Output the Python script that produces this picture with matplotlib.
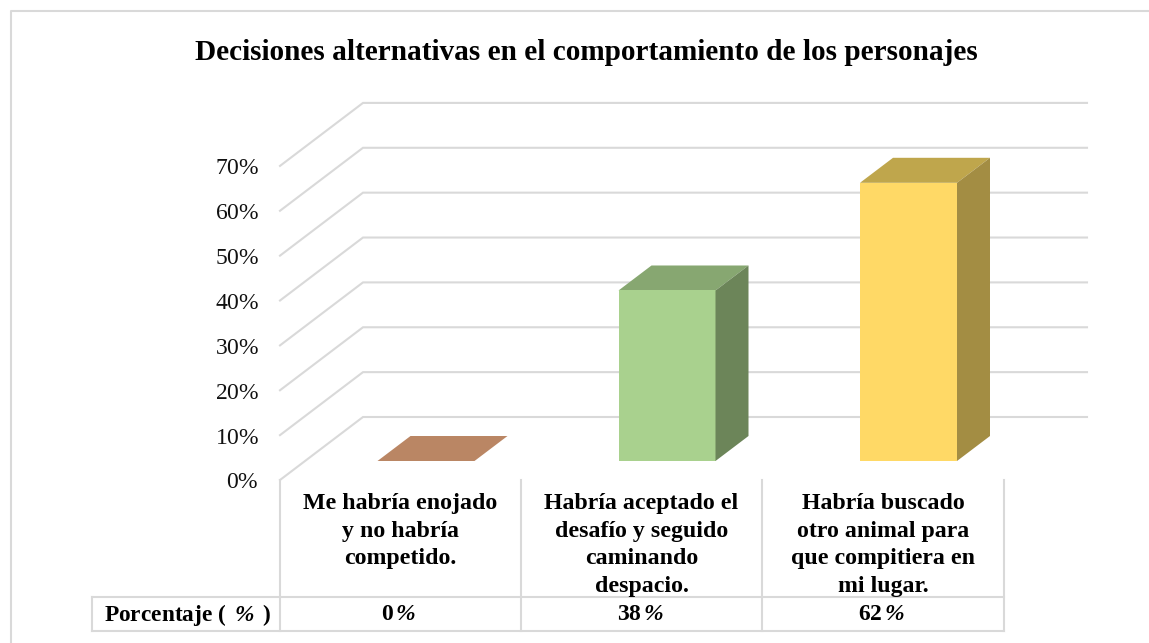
import matplotlib
matplotlib.use('Agg')
import matplotlib.pyplot as plt
from matplotlib.patches import Polygon

plt.rcParams['font.family'] = ['Liberation Serif', 'DejaVu Serif']
plt.rcParams['mathtext.fontset'] = 'custom'
plt.rcParams['mathtext.rm'] = 'Liberation Serif'
plt.rcParams['mathtext.it'] = 'Liberation Serif:italic'
plt.rcParams['mathtext.bf'] = 'Liberation Serif:bold'
plt.rcParams['mathtext.bfit'] = 'Liberation Serif:italic:bold'

# datos
categorias = ['Me habría enojado\ny no habría\ncompetido.',
              'Habría aceptado el\ndesafío y seguido\ncaminando\ndespacio.',
              'Habría buscado\notro animal para\nque compitiera en\nmi lugar.']
porcentajes = [0, 38, 62]
ticks = [0, 10, 20, 30, 40, 50, 60, 70]
frente = [None, '#A9D18E', '#FFD966']
arriba = ['#BA8664', '#87A771', '#BFA64C']
lado = [None, '#6C8559', '#A38D43']

# geometria en pixeles de la imagen
PX = 4.487
X0, X1 = 280, 1004
Y0 = 480
DX, DY = 83, -63
GRIS = '#d9d9d9'
col_x = [280, 521, 762, 1004]


def val_y(v):
    return Y0 - v * PX


fig = plt.figure(figsize=(11.49, 6.43), dpi=100)
ax = fig.add_axes([0, 0, 1, 1])
ax.set_xlim(0, 1149)
ax.set_ylim(643, 0)
ax.axis('off')

# marco exterior (sin borde derecho visible)
ax.plot([10.5, 10.5, 1149], [643, 10.5, 10.5], color=GRIS, lw=1.5)

ax.text(586.5, 53, 'Decisiones alternativas en el comportamiento de los personajes',
        ha='center', va='center', fontsize=21.1, fontweight='bold', color='black')

# rejilla
for t in ticks:
    y = val_y(t)
    ax.plot([X0, X0 + DX, X1 + DX], [y, y + DY, y + DY], color=GRIS, lw=1.5,
            solid_joinstyle='miter', zorder=1)
    ax.text(259, y + 3, f'{t}$\\mathit{{\\%}}$', ha='right', va='center',
            fontsize=17, color='#111111')

# barras
for i, v in enumerate(porcentajes):
    ancho = 97
    centro = (col_x[i] + col_x[i + 1]) / 2 + 25.5
    izq, der = centro - ancho / 2, centro + ancho / 2
    base = 461
    tope = base - v * PX
    ddx, ddy = 33, -25
    ax.add_patch(Polygon([(izq, tope), (der, tope), (der + ddx, tope + ddy), (izq + ddx, tope + ddy)],
                         facecolor=arriba[i], edgecolor='none', zorder=3))
    if v > 0:
        ax.add_patch(Polygon([(izq, base), (der, base), (der, tope), (izq, tope)],
                             facecolor=frente[i], edgecolor='none', zorder=3))
        ax.add_patch(Polygon([(der, base), (der + ddx, base + ddy), (der + ddx, tope + ddy), (der, tope)],
                             facecolor=lado[i], edgecolor='none', zorder=3))

# tabla de datos
for x in col_x:
    ax.plot([x, x], [Y0, 631], color=GRIS, lw=1.5, zorder=2)
ax.plot([92, 1004], [597, 597], color=GRIS, lw=1.5, zorder=2)
ax.plot([92, 1004], [631, 631], color=GRIS, lw=1.5, zorder=2)
ax.plot([92, 92], [597, 631], color=GRIS, lw=1.5, zorder=2)

for i, cat in enumerate(categorias):
    cx = (col_x[i] + col_x[i + 1]) / 2
    ax.text(cx, 493, cat, ha='center', va='top', fontsize=17.2, fontweight='bold',
            linespacing=1.41, color='black')
    ax.text(cx - 1.5, 615, f'$\\mathbf{{{porcentajes[i]}}}\\,\\mathbfit{{\\%}}$', ha='center', va='center',
            fontsize=17, color='black')
ax.text(104, 615, 'Porcentaje ( $\\,\\mathbfit{\\%}\\,$ )', ha='left', va='center',
        fontsize=16.8, fontweight='bold', color='black')

fig.savefig('out.png', dpi=100, facecolor='white')
